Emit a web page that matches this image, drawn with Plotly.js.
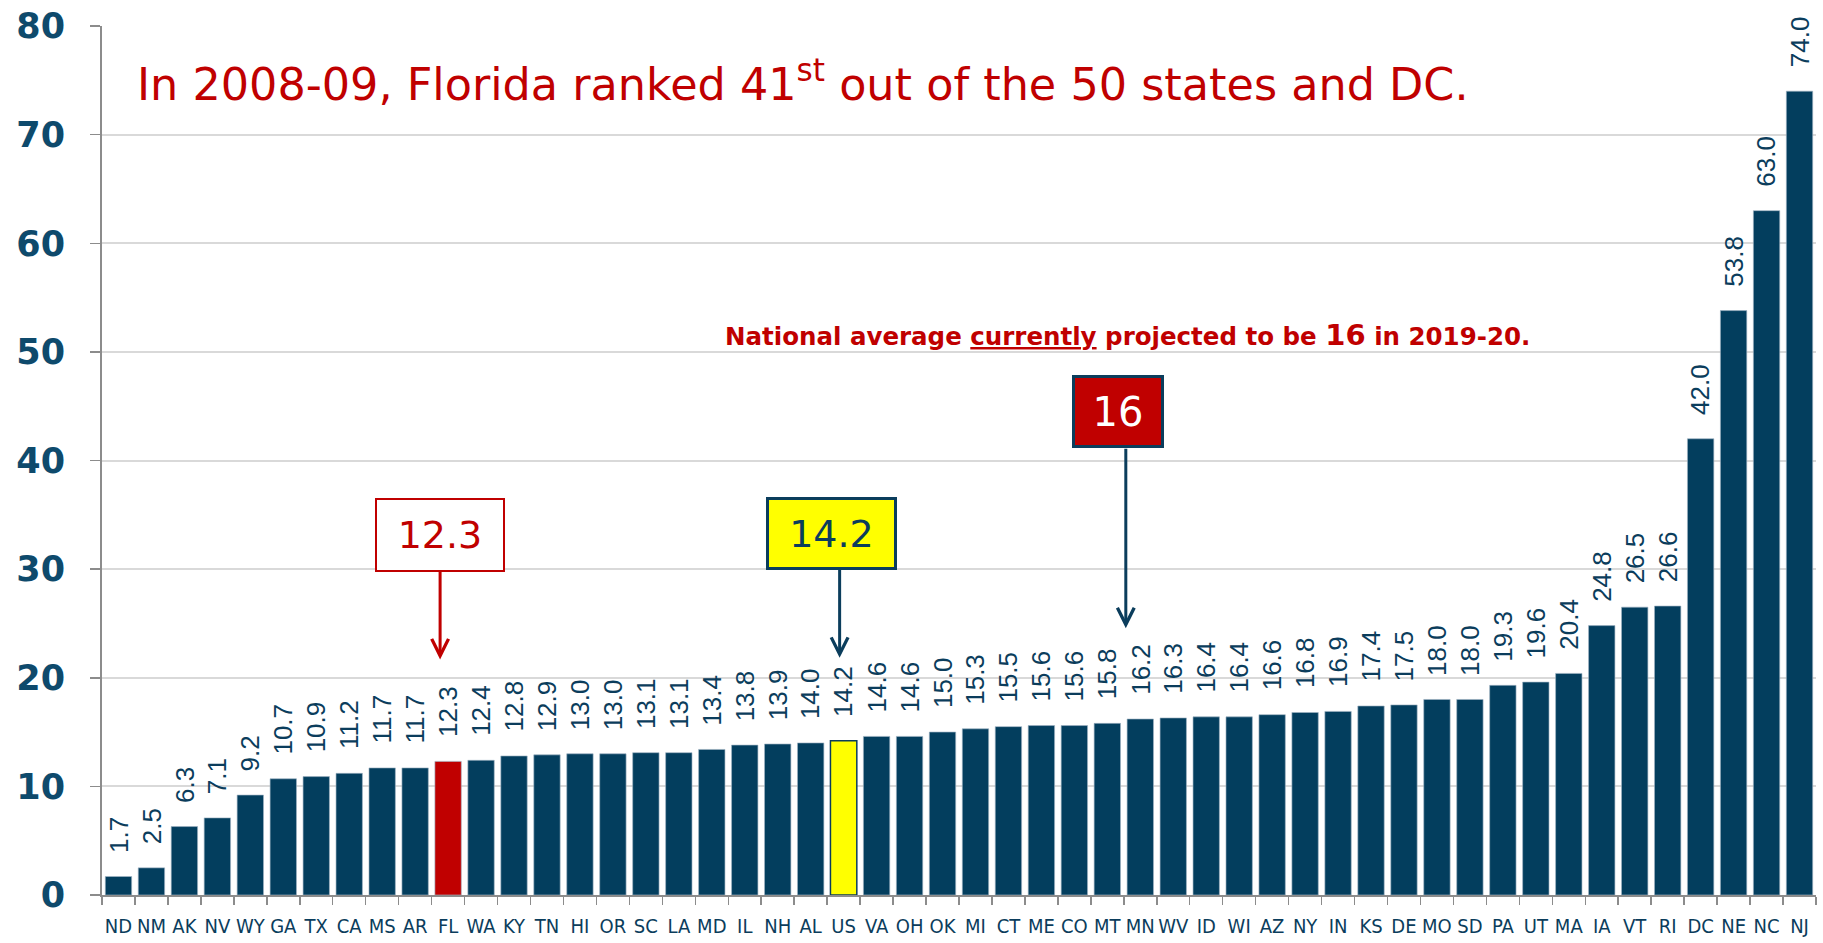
<!DOCTYPE html>
<html>
<head>
<meta charset="utf-8">
<script src="https://cdn.plot.ly/plotly-3.0.1.min.js"></script>
<style>html,body{margin:0;padding:0;background:#fff;}#chart{width:1823px;height:943px;}</style>
</head>
<body>
<div id="chart"></div>
<script>
// ---- data ----
const states = ["ND","NM","AK","NV","WY","GA","TX","CA","MS","AR","FL","WA","KY","TN","HI","OR","SC","LA","MD","IL","NH","AL","US","VA","OH","OK","MI","CT","ME","CO","MT","MN","WV","ID","WI","AZ","NY","IN","KS","DE","MO","SD","PA","UT","MA","IA","VT","RI","DC","NE","NC","NJ"];
const values = [1.7,2.5,6.3,7.1,9.2,10.7,10.9,11.2,11.7,11.7,12.3,12.4,12.8,12.9,13.0,13.0,13.1,13.1,13.4,13.8,13.9,14.0,14.2,14.6,14.6,15.0,15.3,15.5,15.6,15.6,15.8,16.2,16.3,16.4,16.4,16.6,16.8,16.9,17.4,17.5,18.0,18.0,19.3,19.6,20.4,24.8,26.5,26.6,42.0,53.8,63.0,74.0];
const floridaState = "FL";
const usLabel = "US";
const projectedAverage = 16;
const projectedBetween = ["MT","MN"];
const yTicks = [0,10,20,30,40,50,60,70,80];

// ---- styles ----
const NAVY = "#033E5E";
const TEXTBLUE = "#0B3D5C";
const RED = "#C00000";
const YELLOW = "#FFFF00";

const barColors = states.map(s => s === floridaState ? RED : (s === usLabel ? YELLOW : NAVY));
const lineColors = states.map(s => s === usLabel ? TEXTBLUE : "rgba(160,180,195,0.8)");
const lineWidths = states.map(s => s === usLabel ? 1.5 : 0.8);

const trace = {
  type: "bar",
  x: states,
  y: values,
  marker: {color: barColors, line: {color: lineColors, width: lineWidths}},
  hoverinfo: "x+y"
};

const annotations = [];
// value labels
states.forEach((s, i) => {
  annotations.push({
    x: i, y: values[i], xref: "x", yref: "y",
    text: values[i].toFixed(1),
    textangle: -90,
    showarrow: false,
    yanchor: "bottom", xanchor: "center",
    yshift: 22,
    font: {family: "Liberation Sans, Arial, sans-serif", size: 26, color: TEXTBLUE}
  });
});

const flIdx = states.indexOf(floridaState);
const usIdx = states.indexOf(usLabel);
const projIdx = (states.indexOf(projectedBetween[0]) + states.indexOf(projectedBetween[1])) / 2;

function arrowOnly(x, y, ay, standoff, xshift, color) {
  return {
    x: x, y: y, xref: "x", yref: "y", text: "",
    showarrow: true, ax: 0, ay: ay, axref: "pixel", ayref: "pixel",
    standoff: standoff, xshift: xshift,
    arrowhead: 5, arrowsize: 1.1, arrowwidth: 3, arrowcolor: color,
    font: {size: 1}, borderpad: 0
  };
}

// Florida callout
annotations.push({
  x: flIdx, y: values[flIdx], xref: "x", yref: "y",
  text: values[flIdx].toFixed(1),
  showarrow: true, ax: 0, ay: -226, axref: "pixel", ayref: "pixel",
  standoff: 102, xshift: -8,
  arrowhead: 5, arrowsize: 1.1, arrowwidth: 3, arrowcolor: RED,
  bgcolor: "#FFFFFF", bordercolor: RED, borderwidth: 2, borderpad: 1,
  width: 124, height: 68,
  font: {family: "DejaVu Sans, sans-serif", size: 38, color: RED}
});
// US callout
annotations.push(arrowOnly(usIdx, values[usIdx], -172, 83, -4, TEXTBLUE));
annotations.push({
  x: usIdx, y: values[usIdx], xref: "x", yref: "y",
  text: values[usIdx].toFixed(1),
  showarrow: false, xshift: -12, yshift: 207,
  bgcolor: YELLOW, bordercolor: TEXTBLUE, borderwidth: 3, borderpad: 1,
  width: 123, height: 65,
  font: {family: "DejaVu Sans, sans-serif", size: 38, color: TEXTBLUE}
});
// projected 16 callout
annotations.push(arrowOnly(projIdx, projectedAverage, -273, 93, 2, TEXTBLUE));
annotations.push({
  x: projIdx, y: projectedAverage, xref: "x", yref: "y",
  text: String(projectedAverage),
  showarrow: false, xshift: -6, yshift: 310,
  bgcolor: RED, bordercolor: TEXTBLUE, borderwidth: 3, borderpad: 1,
  width: 84, height: 65,
  font: {family: "DejaVu Sans, sans-serif", size: 40, color: "#FFFFFF"}
});
// subtitle note
annotations.push({
  xref: "paper", yref: "paper",
  x: (723 - 102) / 1714, y: (895 - 335) / 869,
  xanchor: "left", yanchor: "middle", showarrow: false,
  text: "National average <u>currently</u> projected to be <span style=\"font-size:29px\">16</span> in 2019-20.",
  font: {family: "DejaVu Sans, sans-serif", size: 24.5, color: RED, weight: "bold"}
});

const layout = {
  width: 1823, height: 943,
  margin: {l: 102, r: 7, t: 26, b: 48, pad: 0},
  paper_bgcolor: "#FFFFFF", plot_bgcolor: "#FFFFFF",
  showlegend: false,
  bargap: 0.2,
  title: {
    text: "In 2008-09, Florida ranked 41<sup>st</sup> out of the 50 states and DC.",
    x: 137 / 1823, xanchor: "left", xref: "container",
    y: 1 - 84 / 943, yanchor: "middle", yref: "container",
    font: {family: "DejaVu Sans, sans-serif", size: 44.5, color: RED}
  },
  xaxis: {
    type: "category",
    tickson: "boundaries",
    ticks: "outside", ticklen: 8, tickcolor: "#8C8C8C", tickwidth: 1.5,
    showline: true, linecolor: "#8C8C8C", linewidth: 2,
    showgrid: false,
    tickangle: 0,
    ticklabelstandoff: 12,
    tickfont: {family: "Liberation Sans Narrow, Arial Narrow, DejaVu Sans Condensed, sans-serif", size: 20, color: TEXTBLUE},
    range: [-0.5, states.length - 0.5],
    fixedrange: true
  },
  yaxis: {
    range: [0, 80],
    tickvals: yTicks,
    ticktext: yTicks.map(String),
    ticks: "outside", ticklen: 10, tickcolor: "#8C8C8C", tickwidth: 1.5,
    showline: true, linecolor: "#8C8C8C", linewidth: 2,
    showgrid: true, gridcolor: "#D9D9D9", gridwidth: 2,
    zeroline: false,
    ticklabelstandoff: 18,
    tickfont: {family: "DejaVu Sans, sans-serif", size: 35, color: "#0E4A6C", weight: "bold"},
    fixedrange: true
  },
  annotations: annotations
};

Plotly.newPlot("chart", [trace], layout, {displayModeBar: false, staticPlot: true});
</script>
</body>
</html>
